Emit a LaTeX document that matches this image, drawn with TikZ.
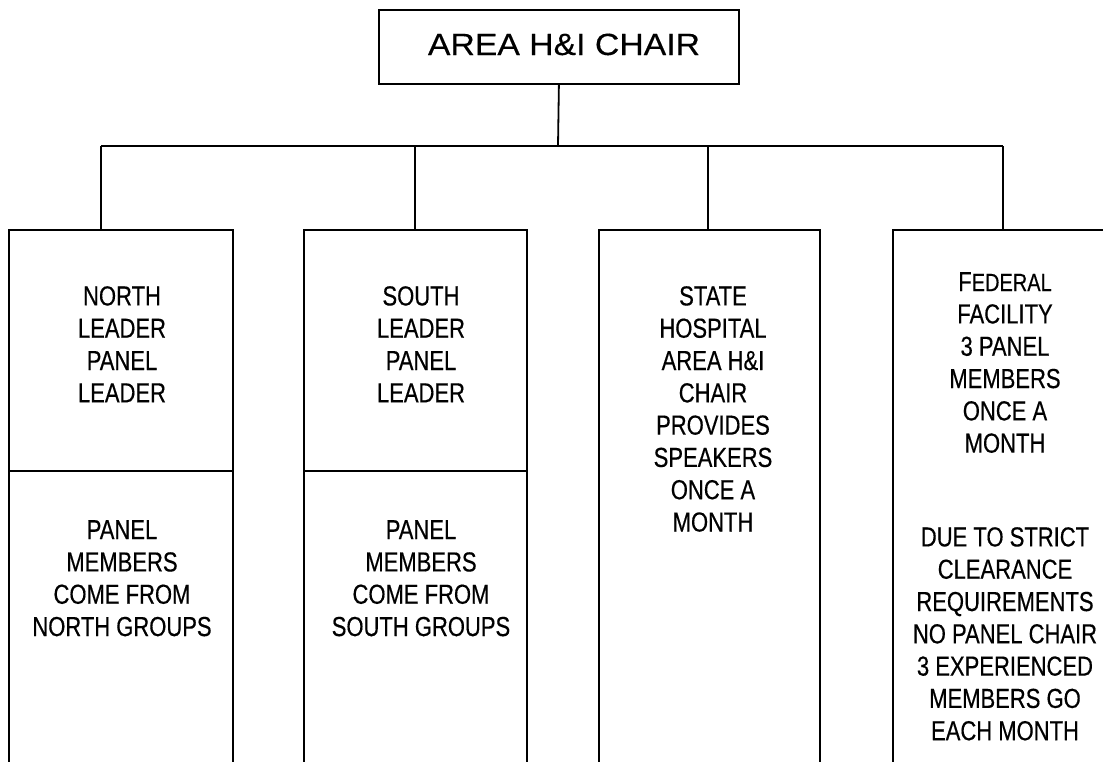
\documentclass[tikz,border=0pt]{standalone}
\usepackage{fontspec}
\setmainfont{Liberation Sans}
\newfontfamily\narrowfont[FakeStretch=0.8,FakeBold=0.4]{Liberation Sans}
\newfontfamily\widefont[FakeStretch=1.1,FakeBold=0.3]{Liberation Sans}
\begin{document}
\begin{tikzpicture}[x=1pt,y=-1pt,
  box/.style={draw, line width=1.8pt, rectangle, inner sep=0pt, anchor=north west},
  link/.style={line width=1.8pt},
  lbl/.style={align=center, inner sep=0pt, anchor=north,
    font=\narrowfont\fontsize{27.5}{32.3}\selectfont},
  titlelbl/.style={inner sep=0pt, font=\widefont\fontsize{30.7}{34}\selectfont}]
\useasboundingbox (0,0) rectangle (1103,761);
\clip (0,0) rectangle (1103,761);
% top box
\node[box, minimum width=360pt, minimum height=74pt] (chair) at (378,9) {};
\node[titlelbl, anchor=base] (chairt) at (564,55) {AREA H\&I CHAIR};
% lower boxes
\node[box, minimum width=224pt, minimum height=560pt] (north) at (8,229) {};
\node[box, minimum width=223pt, minimum height=560pt] (south) at (303,229) {};
\node[box, minimum width=221pt, minimum height=560pt] (state) at (598,229) {};
\node[box, minimum width=222pt, minimum height=560pt] (fed) at (892,229) {};
% dividers
\draw[link] (north.west |- 0,471) -- (north.east |- 0,471);
\draw[link] (south.west |- 0,471) -- (south.east |- 0,471);
% connectors
\coordinate (bus) at (558,146);
\coordinate (d1) at (101,146);
\coordinate (d2) at (415,146);
\coordinate (d3) at (708,146);
\coordinate (d4) at (1003,146);
\draw[link] (chair.south) -- (bus);
\draw[link] (d1) -- (d4);
\draw[link] (d1) -- (d1 |- north.north);
\draw[link] (d2) -- (d2 |- south.north);
\draw[link] (d3) -- (d3 |- state.north);
\draw[link] (d4) -- (d4 |- fed.north);
% texts
\node[lbl] (northt) at (122,286) {NORTH\\LEADER\\PANEL\\LEADER};
\node[lbl] (northb) at (122,520) {PANEL\\MEMBERS\\COME FROM\\NORTH GROUPS};
\node[lbl] (southt) at (421,286) {SOUTH\\LEADER\\PANEL\\LEADER};
\node[lbl] (southb) at (421,520) {PANEL\\MEMBERS\\COME FROM\\SOUTH GROUPS};
\node[lbl] (statet) at (713,286) {STATE\\HOSPITAL\\AREA H\&I\\CHAIR\\PROVIDES\\SPEAKERS\\ONCE A\\MONTH};
\node[lbl] (fedt) at (1005,272) {F{\fontsize{25}{32.3}\selectfont EDERAL}\\FACILITY\\3 PANEL\\MEMBERS\\ONCE A\\MONTH};
\node[lbl] (fedb) at (1005,527) {DUE TO STRICT\\CLEARANCE\\REQUIREMENTS\\NO PANEL CHAIR\\3 EXPERIENCED\\MEMBERS GO\\EACH MONTH};
\end{tikzpicture}
\end{document}
